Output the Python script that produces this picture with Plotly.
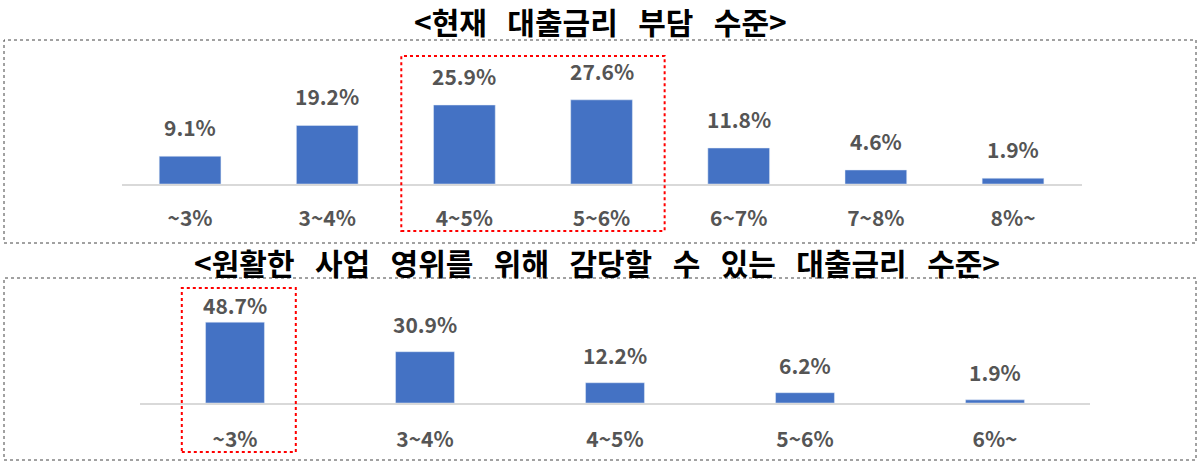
import plotly.graph_objects as go

# 현재 대출금리 부담 수준
cur_cats = ["~3%", "3~4%", "4~5%", "5~6%", "6~7%", "7~8%", "8%~"]
cur_vals = [9.1, 19.2, 25.9, 27.6, 11.8, 4.6, 1.9]

# 감당할 수 있는 대출금리 수준
ok_cats = ["~3%", "3~4%", "4~5%", "5~6%", "6%~"]
ok_vals = [48.7, 30.9, 12.2, 6.2, 1.9]

SP = "\u00a0\u00a0\u00a0"
title1 = SP.join(["<현재", "대출금리", "부담", "수준>"])
title2 = SP.join(["<원활한", "사업", "영위를", "위해", "감당할", "수", "있는", "대출금리", "수준>"])

W, H = 1201, 463
FONT = "Noto Sans CJK KR"
BLUE = "#4472C4"
GRAY = "#555555"


def px(x):
    return x / W


def py(y):
    return (H - y) / H


fig = go.Figure()
fig.add_trace(go.Bar(x=cur_cats, y=cur_vals, marker_color=BLUE, width=0.45,
                     xaxis="x", yaxis="y", hoverinfo="x+y"))
fig.add_trace(go.Bar(x=ok_cats, y=ok_vals, marker_color=BLUE, width=0.31,
                     xaxis="x2", yaxis="y2", hoverinfo="x+y"))

lab_font = dict(size=21, color=GRAY, family=FONT)
annots = []
for c, v in zip(cur_cats, cur_vals):
    annots.append(dict(x=c, y=v, xref="x", yref="y", text=f"<b>{v}%</b>", showarrow=False,
                       yanchor="bottom", yshift=12, font=lab_font))
ok_shift = [0, 11, 11, 11, 11]
for c, v, s in zip(ok_cats, ok_vals, ok_shift):
    annots.append(dict(x=c, y=v, xref="x2", yref="y2", text=f"<b>{v}%</b>", showarrow=False,
                       yanchor="bottom", yshift=s, font=lab_font))
annots.append(dict(x=px(600), y=py(21), xref="paper", yref="paper", text=f"<b>{title1}</b>",
                   showarrow=False, yanchor="middle", font=dict(size=30, color="black", family=FONT)))
annots.append(dict(x=px(597), y=py(262), xref="paper", yref="paper", text=f"<b>{title2}</b>",
                   showarrow=False, yanchor="middle", font=dict(size=30, color="black", family=FONT)))

shapes = [
    dict(type="rect", xref="paper", yref="paper", x0=px(4), x1=px(1196), y0=py(243), y1=py(40),
         line=dict(color="#444444", width=1, dash="dot")),
    dict(type="rect", xref="paper", yref="paper", x0=px(4), x1=px(1196), y0=py(460), y1=py(278),
         line=dict(color="#444444", width=1, dash="dot")),
    dict(type="rect", xref="x", yref="paper", x0=1.54, x1=3.46, y0=py(231), y1=py(56),
         line=dict(color="#FF0000", width=2, dash="dot")),
    dict(type="rect", xref="x2", yref="paper", x0=-0.28, x1=0.32, y0=py(452), y1=py(288),
         line=dict(color="#FF0000", width=2, dash="dot")),
]

axis_common = dict(showgrid=False, zeroline=False, showline=True, linecolor="#D9D9D9", linewidth=2,
                   ticks="", tickfont=dict(size=21, color=GRAY, family=FONT, weight="bold"),
                   fixedrange=True)

fig.update_layout(
    width=W, height=H,
    margin=dict(l=0, r=0, t=0, b=0),
    paper_bgcolor="white", plot_bgcolor="white",
    showlegend=False,
    font=dict(family=FONT),
    xaxis=dict(domain=[px(121.5), px(1081.6)], anchor="y", ticklabelstandoff=15, **axis_common),
    yaxis=dict(domain=[py(184), py(184 - 3.05 * 30)], range=[0, 30], visible=False, anchor="x"),
    xaxis2=dict(domain=[px(140), px(1090)], anchor="y2", ticklabelstandoff=17, **axis_common),
    yaxis2=dict(domain=[py(403), py(403 - 1.66 * 50)], range=[0, 50], visible=False, anchor="x2"),
    annotations=annots,
    shapes=shapes,
)

# drop the default 8px body margin so the figure fills the window
fig.write_html("out.html", config={"displayModeBar": False},
               post_script="document.body.style.margin='0';")
